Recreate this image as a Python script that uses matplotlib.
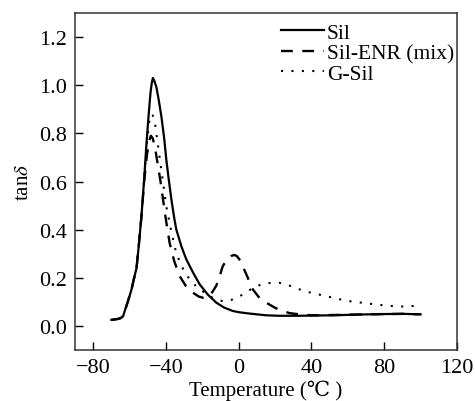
import matplotlib
matplotlib.use("Agg")
import matplotlib.pyplot as plt

plt.rcParams['font.family'] = ['Liberation Serif', 'DejaVu Serif', 'Noto Sans CJK SC']
plt.rcParams['mathtext.fontset'] = 'stix'

# Sil (solid)
sil_t = [-70, -67, -65, -63.6, -62.5, -61, -59, -57.5, -56.2, -55, -53.5, -52, -50.7, -49.5,
         -48.5, -47.8, -47.2, -46.5, -45.3, -44, -42.5, -41, -39.8, -38.5, -37.0, -35.5, -34.3,
         -31.5, -28.8, -25, -21.5, -17, -12.4, -8, -3.3, 0, 5, 10, 15, 22, 33, 42, 52, 65, 79, 90, 100]
sil_y = [0.025, 0.028, 0.032, 0.04, 0.066, 0.1, 0.15, 0.2, 0.24, 0.33, 0.455, 0.61, 0.76, 0.88,
         0.97, 1.01, 1.03, 1.02, 0.993, 0.94, 0.869, 0.78, 0.69, 0.61, 0.524, 0.45, 0.40,
         0.33, 0.276, 0.22, 0.173, 0.13, 0.097, 0.076, 0.062, 0.057, 0.052, 0.048, 0.044, 0.042, 0.042,
         0.043, 0.044, 0.047, 0.049, 0.05, 0.048]

# Sil-ENR (mix) (dashed)
enr_t = [-70, -67, -65, -63.6, -62.5, -61, -59, -57.5, -56.2, -55, -53.5, -52, -50.5, -49.2,
         -48.3, -47.3, -46, -44.5, -43, -41.6, -40, -38, -35.5, -32.5, -29, -25.2, -22, -19.7,
         -17, -15, -12.4, -10.5, -8.8, -6.5, -4.2, -2.5, -1, 1, 2.2, 5, 7.7, 11, 15, 20, 24.1,
         28, 33.3, 40, 50, 65, 79, 90, 100]
enr_y = [0.025, 0.028, 0.032, 0.04, 0.066, 0.1, 0.15, 0.2, 0.24, 0.33, 0.455, 0.6, 0.71, 0.77,
         0.79, 0.78, 0.74, 0.67, 0.6, 0.524, 0.44, 0.345, 0.27, 0.207, 0.165, 0.138, 0.122, 0.117,
         0.12, 0.135, 0.166, 0.205, 0.248, 0.275, 0.29, 0.295, 0.29, 0.27, 0.248, 0.2, 0.152, 0.12,
         0.097, 0.075, 0.062, 0.053, 0.048, 0.044, 0.045, 0.047, 0.049, 0.05, 0.048]

# G-Sil (dotted)
gsil_t = [-70, -67, -65, -63.6, -62.5, -61, -59, -57.5, -56.2, -55, -53.5, -52, -50.5, -49.2,
          -48.3, -47.3, -46, -43.5, -41.5, -39.8, -37, -34.3, -30.5, -27, -23.5, -20, -17, -14,
          -11, -8.8, -6, -3.3, 0, 4, 8, 12.3, 17, 22.3, 27, 33.3, 40, 47.9, 54, 60.7, 70, 78.9,
          85, 91.7, 96, 98.1]
gsil_y = [0.025, 0.028, 0.032, 0.04, 0.066, 0.1, 0.15, 0.2, 0.24, 0.33, 0.455, 0.61, 0.76, 0.85,
          0.88, 0.875, 0.84, 0.70, 0.59, 0.496, 0.39, 0.30, 0.235, 0.193, 0.165, 0.145, 0.128, 0.115,
          0.106, 0.103, 0.104, 0.11, 0.12, 0.14, 0.158, 0.172, 0.178, 0.179, 0.17, 0.152, 0.137,
          0.124, 0.113, 0.103, 0.094, 0.086, 0.082, 0.08, 0.083, 0.094]

xticks = [-80, -40, 0, 40, 80, 120]
yticks = [0.0, 0.2, 0.4, 0.6, 0.8, 1.0, 1.2]

fig = plt.figure(figsize=(4.75, 4.02), dpi=100)
ax = fig.add_axes([0.158, 0.127, 0.804, 0.838])

ax.plot(sil_t, sil_y, color='black', lw=1.6, linestyle='-', label='Sil')
ax.plot(enr_t, enr_y, color='black', lw=1.7, linestyle=(0, (5, 4)), label='Sil-ENR (mix)')
ax.plot(gsil_t, gsil_y, color='black', lw=1.5, linestyle=(0, (1, 4)), label='G-Sil')

ax.set_xlim(-90, 120)
ax.set_ylim(-0.1, 1.3)
ax.set_xticks(xticks)
ax.set_yticks(yticks)
ax.set_yticklabels([f"{v:.1f}" for v in yticks])
ax.tick_params(direction='in', length=5.5, width=1, labelsize=16, pad=6)
for s in ax.spines.values():
    s.set_linewidth(1.1)
    s.set_color('#333333')

ax.set_xlabel('Temperature (\u2103 )', fontsize=15, labelpad=2)
ax.set_ylabel(r'tan$\delta$', fontsize=15, labelpad=4)

ax.legend(loc='upper left', bbox_to_anchor=(0.54, 0.972), borderaxespad=0, borderpad=0,
          frameon=False, fontsize=15.5, handlelength=2.0, handletextpad=0.12,
          labelspacing=0.02)

fig.savefig('out.png', dpi=100)
